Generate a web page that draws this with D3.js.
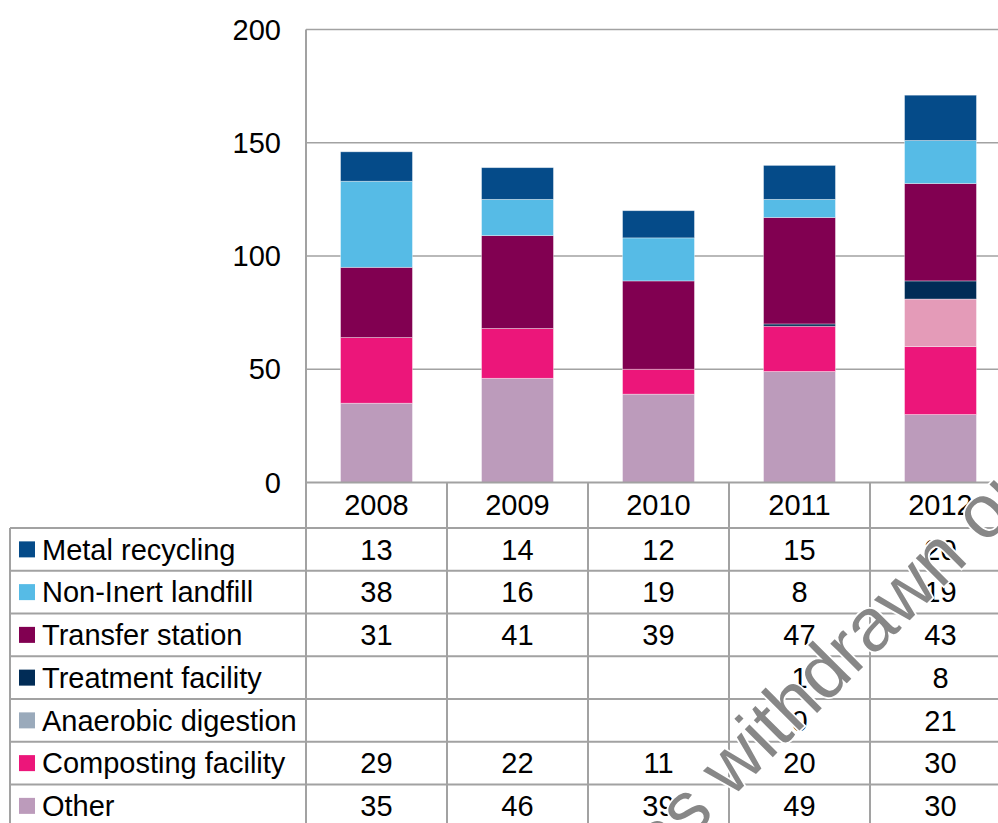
<!DOCTYPE html>
<html>
<head>
<meta charset="utf-8">
<script src="https://d3js.org/d3.v7.min.js"></script>
<style>
body { margin: 0; background: #fff; }
text { font-family: "Liberation Sans", Arial, sans-serif; }
</style>
</head>
<body>
<script>
// years along the x axis
var years = ["2008", "2009", "2010", "2011", "2012"];

// series, listed in table order (top of stack first)
var seriesNames = ["Metal recycling", "Non-Inert landfill", "Transfer station",
  "Treatment facility", "Anaerobic digestion", "Composting facility", "Other"];
var metalRecycling     = [13, 14, 12, 15, 20];
var nonInertLandfill   = [38, 16, 19, 8, 19];
var transferStation    = [31, 41, 39, 47, 43];
var treatmentFacility  = [null, null, null, 1, 8];
var anaerobicDigestion = [null, null, null, 0, 21];
var compostingFacility = [29, 22, 11, 20, 30];
var other              = [35, 46, 39, 49, 30];
var seriesValues = [metalRecycling, nonInertLandfill, transferStation,
  treatmentFacility, anaerobicDigestion, compostingFacility, other];

var yTicks = [0, 50, 100, 150, 200];

// colours: bars and legend keys (anaerobic key differs from its bar in the original)
var barColors = ["#054b89", "#56bbe6", "#810051", "#012c56", "#e49bb8", "#ec167a", "#bc9bbb"];
var keyColors = ["#054b89", "#56bbe6", "#810051", "#012c56", "#9aaabb", "#ec167a", "#bc9bbb"];

var W = 998, H = 823;
var fontSize = 29;
var lineCol = "#a2a2a2";

var svg = d3.select("body").append("svg")
  .attr("width", W)
  .attr("height", H);

// scales
var x = d3.scaleBand()
  .domain(years)
  .range([306, 1011])
  .paddingInner(0.49)
  .paddingOuter(0.245);
var y = d3.scaleLinear()
  .domain([0, 200])
  .range([482.5, 29.5]);
var step = x.step();
var colLeft = function(yr) { return x(yr) - step * 0.245; };

// build rows for d3.stack
var rows = years.map(function(yr, i) {
  var r = { year: yr };
  seriesNames.forEach(function(s, j) { r[s] = seriesValues[j][i]; });
  return r;
});
var stackOrder = seriesNames.slice().reverse();
var stacked = d3.stack()
  .keys(stackOrder)
  .value(function(d, k) { return d[k] == null ? 0 : d[k]; })(rows);

// gridlines
svg.append("g").selectAll("line")
  .data(yTicks.filter(function(t) { return t > 0; }))
  .enter().append("line")
  .attr("x1", 306).attr("x2", 1011)
  .attr("y1", function(d) { return y(d); })
  .attr("y2", function(d) { return y(d); })
  .attr("stroke", lineCol)
  .attr("stroke-width", 1.6);

// y tick labels
svg.append("g").selectAll("text")
  .data(yTicks)
  .enter().append("text")
  .attr("x", 281)
  .attr("y", function(d) { return y(d); })
  .attr("dy", "0.35em")
  .attr("text-anchor", "end")
  .attr("font-size", fontSize)
  .text(function(d) { return d; });

// stacked bars
svg.append("g").selectAll("g")
  .data(stacked)
  .enter().append("g")
  .attr("fill", function(d) { return barColors[seriesNames.indexOf(d.key)]; })
  .selectAll("rect")
  .data(function(d) { return d; })
  .enter().append("rect")
  .attr("x", function(d) { return x(d.data.year); })
  .attr("width", x.bandwidth())
  .attr("y", function(d) { return y(d[1]); })
  .attr("height", function(d) { return y(d[0]) - y(d[1]); })
  .attr("stroke", "#fff")
  .attr("stroke-opacity", 0.45)
  .attr("stroke-width", 0.8);

// data table
var rowTop = 528, rowH = 42.75, headTop = 482.5;
var table = svg.append("g");

// header row: year labels
table.selectAll("text.year")
  .data(years)
  .enter().append("text")
  .attr("class", "year")
  .attr("x", function(d) { return x(d) + x.bandwidth() / 2; })
  .attr("y", (headTop + rowTop) / 2)
  .attr("dy", "0.35em")
  .attr("text-anchor", "middle")
  .attr("font-size", fontSize)
  .text(function(d) { return d; });

// horizontal lines
table.append("line")
  .attr("x1", 306).attr("x2", 1011)
  .attr("y1", headTop).attr("y2", headTop)
  .attr("stroke", lineCol).attr("stroke-width", 2);
table.selectAll("line.h")
  .data(d3.range(seriesNames.length + 1))
  .enter().append("line")
  .attr("class", "h")
  .attr("x1", 10).attr("x2", 1011)
  .attr("y1", function(i) { return rowTop + i * rowH; })
  .attr("y2", function(i) { return rowTop + i * rowH; })
  .attr("stroke", lineCol).attr("stroke-width", 2);

// vertical lines
var bottom = rowTop + seriesNames.length * rowH;
table.append("line")
  .attr("x1", 10).attr("x2", 10)
  .attr("y1", rowTop).attr("y2", bottom)
  .attr("stroke", lineCol).attr("stroke-width", 2);
table.selectAll("line.v")
  .data(years.concat(["end"]))
  .enter().append("line")
  .attr("class", "v")
  .attr("x1", function(d, i) { return i < years.length ? colLeft(d) : colLeft(years[years.length - 1]) + step; })
  .attr("x2", function(d, i) { return i < years.length ? colLeft(d) : colLeft(years[years.length - 1]) + step; })
  .attr("y1", function(d, i) { return i === 0 ? y(200) : headTop; })
  .attr("y2", bottom)
  .attr("stroke", lineCol).attr("stroke-width", 2);

// series rows: key, label, values
var tr = table.selectAll("g.row")
  .data(seriesNames)
  .enter().append("g")
  .attr("class", "row")
  .attr("transform", function(d, i) { return "translate(0," + (rowTop + i * rowH + rowH / 2) + ")"; });
tr.append("rect")
  .attr("x", 19).attr("y", -8)
  .attr("width", 16).attr("height", 16)
  .attr("fill", function(d, i) { return keyColors[i]; });
tr.append("text")
  .attr("x", 42)
  .attr("dy", "0.35em")
  .attr("font-size", fontSize)
  .text(function(d) { return d; });
tr.selectAll("text.val")
  .data(function(d, i) { return seriesValues[i].map(function(v, k) { return { v: v, yr: years[k] }; }); })
  .enter().append("text")
  .attr("class", "val")
  .attr("x", function(d) { return x(d.yr) + x.bandwidth() / 2; })
  .attr("dy", "0.35em")
  .attr("text-anchor", "middle")
  .attr("font-size", fontSize)
  .text(function(d) { return d.v == null ? "" : d.v; });

// watermark
var wm = svg.append("g")
  .attr("transform", "translate(731,799) rotate(-45)")
  .attr("font-size", 75)
  .attr("fill", "#878787")
  .attr("stroke", "#fff")
  .attr("stroke-width", 3.5)
  .attr("paint-order", "stroke");
wm.append("text")
  .attr("x", -21)
  .attr("text-anchor", "end")
  .text("This publication was");
wm.append("text")
  .attr("x", 0)
  .text("withdrawn on");
</script>
</body>
</html>
